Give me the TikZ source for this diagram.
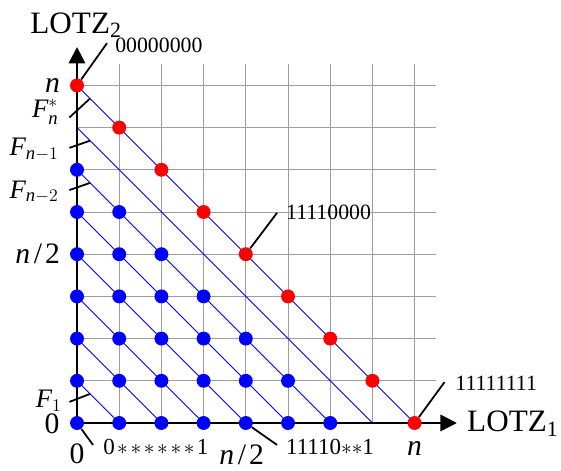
\documentclass[tikz,border=0pt]{standalone}
\usepackage{amsmath}
\usepackage{fontspec}
\setmainfont{Liberation Serif}
\usetikzlibrary{arrows.meta}
\newcommand\mi[1]{\textit{#1}}
\newcommand\half{\mi{n}\kern2.5pt/\kern2pt2}
\tikzset{
  gridline/.style={draw=black!38, line width=0.6pt},
  axisline/.style={line width=1.6pt, -{Triangle[length=11pt,width=11pt]}},
  diag/.style={draw=blue, line width=0.6pt},
  reddot/.style={circle, fill=red, inner sep=0pt, minimum size=0.33cm},
  bluedot/.style={circle, fill=blue, inner sep=0pt, minimum size=0.33cm},
  pinline/.style={line width=1.2pt},
  biglab/.style={inner sep=0pt, font=\fontsize{20}{24}\selectfont},
  flab/.style={inner sep=0pt, font=\fontsize{18}{22}\selectfont, anchor=base east},
  bitlab/.style={inner sep=0pt, font=\fontsize{14.7}{17}\selectfont, anchor=west},
  bitlabb/.style={inner sep=0pt, font=\fontsize{15.5}{18}\selectfont, anchor=west},
  axlab/.style={inner sep=0pt, font=\fontsize{21}{25}\selectfont, anchor=base west}
}
\begin{document}
\begin{tikzpicture}[x=1cm,y=1cm]
\useasboundingbox (-1.825,-1.114) rectangle (11.469,10.024);
% grid
\foreach \i in {0,...,8} {
  \draw[gridline] (\i,0) -- (\i,8.5);
  \draw[gridline] (0,\i) -- (8.5,\i);
}
% diagonals
\foreach \c in {1,...,8} {
  \coordinate (da\c) at (0,\c);
  \coordinate (db\c) at (\c,0);
  \draw[diag] (da\c) -- (db\c);
}
% axes
\coordinate (o) at (0,0);
\coordinate (xe) at (9.0,0);
\coordinate (ye) at (0,8.91);
\draw[axisline] (o) -- (xe);
\draw[axisline] (o) -- (ye);
% dots
\foreach \i in {0,...,6} {
  \foreach \j in {0,...,6} {
    \pgfmathtruncatemacro\s{\i+\j}
    \ifnum\s<7 \node[bluedot] (b\i-\j) at (\i,\j) {}; \fi
  }
}
\foreach \i in {0,...,8} {
  \node[reddot] (r\i) at (\i,{8-\i}) {};
}
% axis titles
\node[axlab] (lotz2) at (-1.11,9.24) {LOTZ\textsubscript{2}};
\node[axlab] (lotz1) at (9.24,-0.21) {LOTZ\textsubscript{1}};
% axis value labels
\node[biglab, anchor=base] (yn) at (-0.58,7.82) {\mi{n}};
\node[biglab, anchor=base east] (yhalf) at (-0.40,3.79) {\half};
\node[biglab, anchor=base] (y0) at (-0.59,-0.24) {0};
\node[biglab, anchor=base] (x0) at (0,-0.95) {0};
\node[biglab, anchor=base] (xhalf) at (3.9,-0.99) {\half};
\node[biglab, anchor=base] (xn) at (8.0,-0.76) {\mi{n}};
% F labels
\node[flab] (fns) at (-0.43,7.23) {$\textit{F}^{*}_{\textit{n}}$};
\node[flab] (fn1) at (-0.43,6.33) {$\textit{F}_{\textit{n}-1}$};
\node[flab] (fn2) at (-0.43,5.33) {$\textit{F}_{\textit{n}-2}$};
\node[flab] (f1) at (-0.36,0.36) {$\textit{F}_{1}$};
\coordinate (fsa) at (-0.18,7.24); \coordinate (fsb) at (0.31,7.69);
\coordinate (f1a) at (-0.18,6.52); \coordinate (f1b) at (0.31,6.69);
\coordinate (f2a) at (-0.18,5.52); \coordinate (f2b) at (0.31,5.69);
\coordinate (fza) at (-0.18,0.50); \coordinate (fzb) at (0.31,0.69);
\draw[pinline] (fsa) -- (fsb);
\draw[pinline] (f1a) -- (f1b);
\draw[pinline] (f2a) -- (f2b);
\draw[pinline] (fza) -- (fzb);
% bit string labels
\coordinate (p0) at (0.71,9.0);
\coordinate (p4) at (4.74,4.98);
\coordinate (p8) at (8.71,0.97);
\coordinate (q0) at (0.38,-0.52);
\coordinate (q4) at (4.74,-0.52);
\draw[pinline] (r0) -- (p0);
\draw[pinline] (r4) -- (p4);
\draw[pinline] (r8) -- (p8);
\draw[pinline] (b0-0) -- (q0);
\draw[pinline] (b4-0) -- (q4);
\node[bitlab] (s0) at (0.9,8.96) {00000000};
\node[bitlab] (s4) at (4.95,4.98) {11110000};
\node[bitlab] (s8) at (8.96,0.95) {11111111};
\node[bitlabb] (t0) at (0.62,-0.57) {0\kern1.5pt${\ast}\kern1.8pt{\ast}\kern1.8pt{\ast}\kern1.8pt{\ast}\kern1.8pt{\ast}\kern1.8pt{\ast}$\kern1.5pt1};
\node[bitlabb] (t4) at (4.95,-0.57) {11110${\ast}{\ast}$1};
\end{tikzpicture}
\end{document}
